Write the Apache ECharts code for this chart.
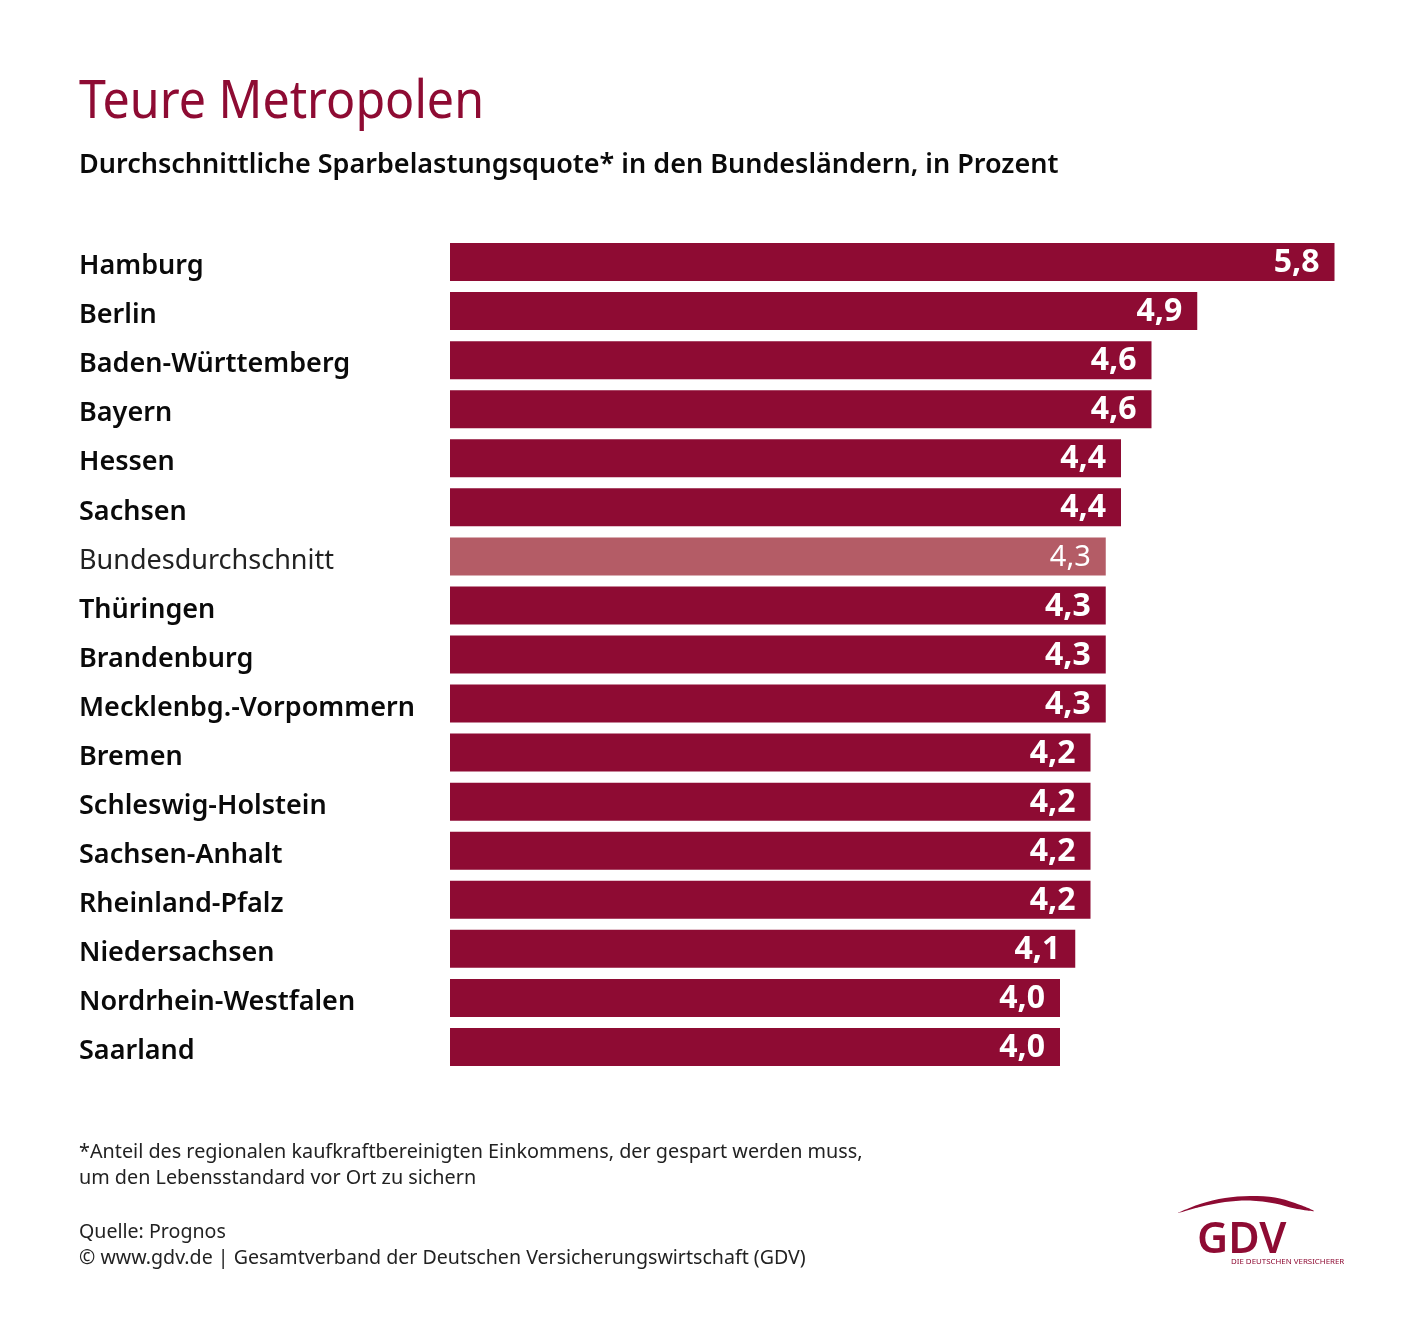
<!DOCTYPE html>
<html><head><meta charset="utf-8">
<style>html,body{margin:0;padding:0;background:#fff}#c{width:1415px;height:1344px}</style>
<script src="https://cdn.jsdelivr.net/npm/echarts@6/dist/echarts.min.js"></script>
</head><body><div id="c"></div>
<script>
const categories=["Hamburg","Berlin","Baden-Württemberg","Bayern","Hessen","Sachsen","Bundesdurchschnitt","Thüringen","Brandenburg","Mecklenbg.-Vorpommern","Bremen","Schleswig-Holstein","Sachsen-Anhalt","Rheinland-Pfalz","Niedersachsen","Nordrhein-Westfalen","Saarland"];
const values=[5.8,4.9,4.6,4.6,4.4,4.4,4.3,4.3,4.3,4.3,4.2,4.2,4.2,4.2,4.1,4.0,4.0];
const averageName="Bundesdurchschnitt";
const titleText="Teure Metropolen";
const subtitleText="Durchschnittliche Sparbelastungsquote* in den Bundesländern, in Prozent";
const noteLines=["*Anteil des regionalen kaufkraftbereinigten Einkommens, der gespart werden muss,","um den Lebensstandard vor Ort zu sichern"];
const sourceLines=["Quelle: Prognos","© www.gdv.de | Gesamtverband der Deutschen Versicherungswirtschaft (GDV)"];
const RED="#8e0b33",AVG="#b45c66",FONT="'Noto Sans',sans-serif";
const chart=echarts.init(document.getElementById('c'),null,{renderer:'canvas'});
function txt(x,y,text,size,weight,color,extra){return Object.assign({type:'text',x:x,y:y,silent:true,style:{text,fontFamily:FONT,fontSize:size,fontWeight:weight,fill:color}},extra||{});}
chart.setOption({
 animation:false,
 backgroundColor:'#fff',
 grid:{left:450,top:237.5,width:884.5,height:834,containLabel:false},
 xAxis:{type:'value',min:0,max:5.8,show:false},
 yAxis:{type:'category',inverse:true,data:categories,axisLine:{show:false},axisTick:{show:false},
  axisLabel:{margin:371,align:'left',fontFamily:FONT,fontSize:27,color:'#0a0a0a',
   formatter:v=>v===averageName?'{a|'+v+'}':'{b|'+v+'}',
   rich:{a:{fontFamily:FONT,fontSize:27,fontWeight:400,color:'#222',padding:[9,0,0,0]},b:{fontFamily:FONT,fontSize:27,fontWeight:600,color:'#0a0a0a',padding:[9,0,0,0]}}}},
 series:[{type:'bar',barWidth:38,data:categories.map((c,i)=>({value:values[i],
   itemStyle:{color:c===averageName?AVG:RED},
   label:c===averageName?{fontWeight:400,fontSize:29}:{fontWeight:700,fontSize:32}})),
  label:{show:true,position:'insideRight',distance:15,offset:[0,1],color:'#fff',fontFamily:FONT,
   formatter:p=>p.value.toFixed(1).replace('.',',')}}],
 graphic:[
  txt(79,77,titleText,52,400,RED,{scaleX:0.93}),
  txt(79,152,subtitleText,27,600,'#0a0a0a'),
  txt(79,1142.5,noteLines[0],19.8,400,'#222'),
  txt(79,1168.5,noteLines[1],19.8,400,'#222'),
  txt(79,1222.5,sourceLines[0],19.6,400,'#222'),
  txt(79,1248.5,sourceLines[1],19.6,400,'#222'),
  txt(1197,1219,'GDV',43,600,RED),
  txt(1231,1258,'DIE DEUTSCHEN VERSICHERER',7.9,400,RED),
  {type:'polygon',silent:true,shape:{smooth:0.3,points:[[1178,1213],[1200,1204],[1225,1198],[1250,1196],[1275,1197.5],[1295,1203],[1314,1211],[1295,1208.5],[1275,1203.5],[1250,1200.5],[1225,1202],[1200,1207]]},style:{fill:RED}}
 ]
});
</script></body></html>
